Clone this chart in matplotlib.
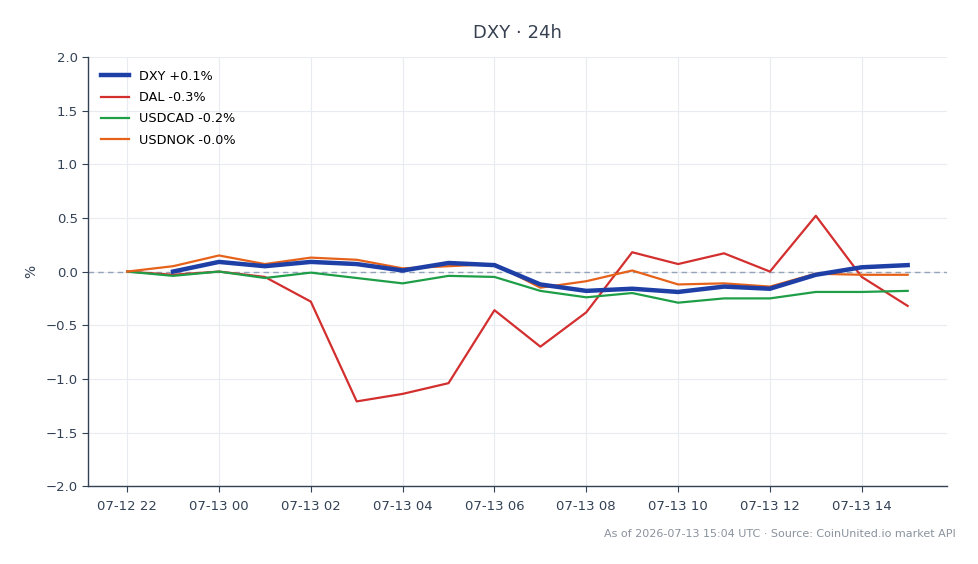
import matplotlib
matplotlib.use("Agg")
import matplotlib.pyplot as plt
import matplotlib.dates as mdates
import numpy as np
import pandas as pd

# hourly timestamps, 07-12 22:00 .. 07-13 15:00
times = pd.date_range("2026-07-12 22:00", periods=18, freq="h")

dxy = [np.nan, 0.00, 0.09, 0.05, 0.09, 0.07, 0.01, 0.08, 0.06, -0.12,
       -0.18, -0.16, -0.19, -0.14, -0.16, -0.03, 0.04, 0.06]
dal = [0.00, -0.03, 0.00, -0.05, -0.28, -1.21, -1.14, -1.04, -0.36, -0.70,
       -0.38, 0.18, 0.07, 0.17, 0.00, 0.52, -0.05, -0.32]
usdcad = [0.00, -0.04, 0.00, -0.06, -0.01, -0.06, -0.11, -0.04, -0.05, -0.18,
          -0.24, -0.20, -0.29, -0.25, -0.25, -0.19, -0.19, -0.18]
usdnok = [0.00, 0.05, 0.15, 0.07, 0.13, 0.11, 0.03, 0.05, 0.07, -0.15,
          -0.09, 0.01, -0.12, -0.11, -0.14, -0.02, -0.03, -0.03]

labels = ["DXY +0.1%", "DAL -0.3%", "USDCAD -0.2%", "USDNOK -0.0%"]

fig = plt.figure(figsize=(9.79, 5.64), dpi=100)
ax = fig.add_axes([0.09, 0.138, 0.877, 0.761])

ax.axhline(0, color="#94a3b8", lw=1, ls=(0, (4, 3)), zorder=1)
ax.plot(times, dxy, color="#1e3fa6", lw=3.2, label=labels[0], zorder=5)
ax.plot(times, dal, color="#d32f2f", lw=1.6, label=labels[1], zorder=3)
ax.plot(times, usdcad, color="#1f9e48", lw=1.6, label=labels[2], zorder=3)
ax.plot(times, usdnok, color="#e6621b", lw=1.6, label=labels[3], zorder=4)

ax.set_ylim(-2.0, 2.0)
ax.set_yticks(np.arange(-2.0, 2.01, 0.5))
ax.xaxis.set_major_locator(mdates.HourLocator(byhour=range(0, 24, 2)))
ax.xaxis.set_major_formatter(mdates.DateFormatter("%m-%d %H"))

ax.grid(True, color="#e8ebef", lw=0.8)
ax.set_axisbelow(True)
for s in ["top", "right"]:
    ax.spines[s].set_visible(False)
for s in ["left", "bottom"]:
    ax.spines[s].set_color("#334155")
    ax.spines[s].set_linewidth(1.0)
ax.tick_params(colors="#334155", labelsize=9.5, length=4)
ax.tick_params(axis="x", pad=6)
ax.set_ylabel("%", color="#334155", fontsize=10, labelpad=5)

ax.set_title("DXY · 24h", color="#374151", fontsize=13, pad=14)
ax.legend(loc="upper left", frameon=False, fontsize=9.2, handlelength=2.2,
          labelspacing=0.65, borderaxespad=0.6)

fig.text(0.976, 0.054, "As of 2026-07-13 15:04 UTC · Source: CoinUnited.io market API",
         ha="right", va="center", fontsize=8, color="#8a929e")

fig.savefig("out.png", dpi=100)
